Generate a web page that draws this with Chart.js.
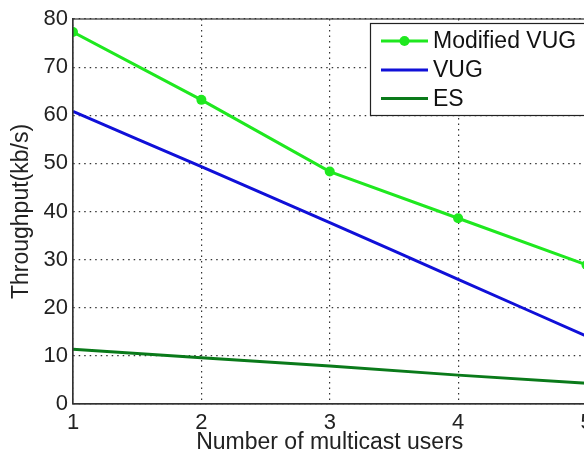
<!DOCTYPE html>
<html>
<head>
<meta charset="utf-8">
<script src="https://cdn.jsdelivr.net/npm/chart.js@4.4.1/dist/chart.umd.min.js"></script>
<style>
  html, body { margin: 0; padding: 0; background: #fff; overflow: hidden; }
  #wrap { width: 584px; height: 457px; overflow: hidden; position: relative; }
  canvas { display: block; }
</style>
</head>
<body>
<div id="wrap"><canvas id="c" width="640" height="457"></canvas></div>
<script>
// Number of multicast users
const users = [1, 2, 3, 4, 5];
// Throughput (kb/s) for each scheme
const modifiedVug = [77.3, 63.2, 48.3, 38.6, 28.9];
const vug = [60.8, 49.3, 37.7, 25.9, 14.1];
const es = [11.4, 9.6, 7.9, 6.0, 4.3];
const yTicks = [0, 10, 20, 30, 40, 50, 60, 70, 80];

const FONT = '"Liberation Sans", Arial, Helvetica, sans-serif';

const pts = vals => users.map((u, i) => ({ x: u, y: vals[i] }));

// Frame around the plot and a boxed legend in the upper right corner
const boxLegend = {
  id: 'boxLegend',
  afterDraw(chart) {
    const ctx = chart.ctx;
    const area = chart.chartArea;
    ctx.save();
    ctx.strokeStyle = '#333';
    ctx.lineWidth = 1.2;
    ctx.setLineDash([]);
    ctx.strokeRect(area.left, area.top, area.right - area.left, area.bottom - area.top);

    const x0 = 370.5, y0 = 23.5, w = 225, h = 92;
    ctx.fillStyle = '#fff';
    ctx.fillRect(x0, y0, w, h);
    ctx.strokeStyle = '#222';
    ctx.lineWidth = 1.2;
    ctx.strokeRect(x0, y0, w, h);

    const rows = [41, 70, 98.5];
    ctx.font = '23px ' + FONT;
    ctx.textBaseline = 'middle';
    ctx.textAlign = 'left';
    chart.data.datasets.forEach((ds, i) => {
      const y = rows[i];
      ctx.strokeStyle = ds.borderColor;
      ctx.lineWidth = 3;
      ctx.beginPath();
      ctx.moveTo(381, y);
      ctx.lineTo(428, y);
      ctx.stroke();
      if (ds.pointRadius > 0) {
        ctx.fillStyle = ds.borderColor;
        ctx.beginPath();
        ctx.arc(404.5, y, ds.pointRadius, 0, Math.PI * 2);
        ctx.fill();
      }
      ctx.fillStyle = '#111';
      ctx.fillText(ds.label, 433, y + 1);
    });
    ctx.restore();
  }
};

new Chart(document.getElementById('c'), {
  type: 'line',
  data: {
    datasets: [
      { label: 'Modified VUG', data: pts(modifiedVug), borderColor: '#1fe81f', backgroundColor: '#1fe81f',
        borderWidth: 3, pointRadius: 5, pointBackgroundColor: '#1fe81f', pointBorderWidth: 0, tension: 0 },
      { label: 'VUG', data: pts(vug), borderColor: '#1010d8', backgroundColor: '#1010d8',
        borderWidth: 3, pointRadius: 0, tension: 0.15 },
      { label: 'ES', data: pts(es), borderColor: '#0a7a1a', backgroundColor: '#0a7a1a',
        borderWidth: 3, pointRadius: 0, tension: 0 }
    ]
  },
  options: {
    responsive: false,
    animation: false,
    devicePixelRatio: 1,
    layout: { padding: { top: 19, right: 53.5, left: 0, bottom: 0 } },
    plugins: { legend: { display: false }, tooltip: { enabled: false } },
    scales: {
      x: {
        type: 'linear', min: 1, max: 5,
        afterFit(s) { s.height = 53; },
        afterBuildTicks(s) { s.ticks = users.map(v => ({ value: v })); },
        grid: { color: '#333', lineWidth: 1.2, drawTicks: false },
        border: { color: '#333', width: 1.2, dash: [1.5, 4] },
        ticks: { font: { family: FONT, size: 22 }, color: '#222', padding: 6, maxRotation: 0 },
        title: { display: true, text: 'Number of multicast users', font: { family: FONT, size: 23 }, color: '#222',
                 padding: { top: 0, bottom: 1 } }
      },
      y: {
        min: 0, max: 80,
        afterFit(s) { s.width = 73; },
        afterBuildTicks(s) { s.ticks = yTicks.map(v => ({ value: v })); },
        grid: { color: '#333', lineWidth: 1.2, drawTicks: false },
        border: { color: '#333', width: 1.2, dash: [1.5, 4] },
        ticks: { font: { family: FONT, size: 22 }, color: '#222', padding: 5 },
        title: { display: true, text: 'Throughput(kb/s)', font: { family: FONT, size: 23 }, color: '#222',
                 padding: { top: 8, bottom: 0 } }
      }
    }
  },
  plugins: [boxLegend]
});
</script>
</body>
</html>
